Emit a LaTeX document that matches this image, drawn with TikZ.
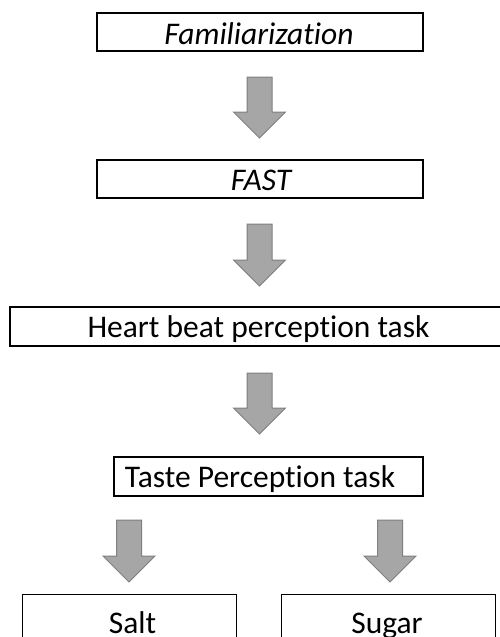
\documentclass[tikz,border=0pt]{standalone}
\usepackage{fontspec}
\setmainfont{Carlito}[Ligatures=NoCommon]
\begin{document}
\begin{tikzpicture}[x=1pt,y=-1pt,
  stage/.style={draw=black, line width=1.4pt, fill=white, rectangle, inner sep=0pt},
  label/.style={font=\fontsize{31.5}{36}\selectfont, inner sep=0pt, anchor=base},
  flowarrow/.style={fill=arrowfill, draw=arrowedge, line width=1pt, line join=miter}]
\definecolor{arrowfill}{HTML}{A6A6A6}
\definecolor{arrowedge}{HTML}{7F7F7F}
% canvas
\useasboundingbox (0,0) rectangle (500,637);
\clip (0,0) rectangle (500,637);

% block arrow pointing down: shaft top at #2, tip at #3, centred on x = #1
\newcommand{\blockarrow}[3]{%
  \draw[flowarrow] (#1-12.5,#2) -- (#1+12.5,#2) -- (#1+12.5,#3-26)
    -- (#1+26,#3-26) -- (#1,#3) -- (#1-26,#3-26) -- (#1-12.5,#3-26) -- cycle;}

% stage boxes
\node[stage, minimum width=326, minimum height=38] (fam) at (260,32) {};
\node[stage, minimum width=326, minimum height=38] (fast) at (260,179) {};
\node[stage, minimum width=497, minimum height=39] (heart) at (258.5,326.5) {};
\node[stage, minimum width=309, minimum height=39] (taste) at (268.5,476.5) {};
\node[stage, minimum width=214, minimum height=80, anchor=north west] (salt) at (22,594) {};
\node[stage, minimum width=214, minimum height=80, anchor=north east] (sugar) at (496,594) {};

% stage texts, placed on their baselines
\node[label] (famtxt) at (259,44) {\itshape Familiarization};
\node[label] (fasttxt) at (261,190) {\itshape FAST};
\node[label] (hearttxt) at (258.5,337) {Heart beat perception task};
\node[label] (tastetxt) at (260,487) {Taste Perception task};
\node[label] (salttxt) at (132.5,633) {Salt};
\node[label] (sugartxt) at (387,633) {Sugar};

% arrows between stages
\blockarrow{259.5}{77}{138}
\blockarrow{259.5}{224}{286}
\blockarrow{259.5}{373}{434}
\blockarrow{129}{520}{582}
\blockarrow{390}{520}{582}
\end{tikzpicture}
\end{document}
